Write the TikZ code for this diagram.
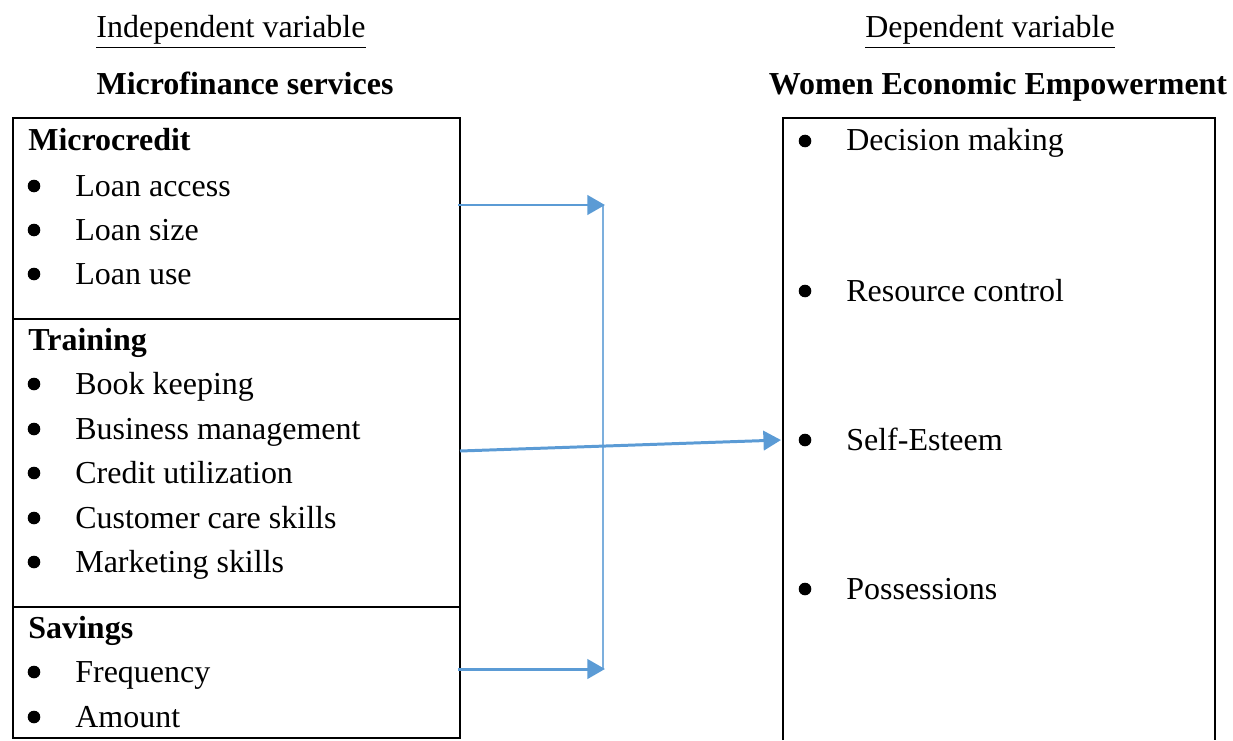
\documentclass[tikz,border=0pt]{standalone}
\usepackage{fontspec}
\setmainfont{Liberation Serif}
\usetikzlibrary{arrows.meta}

\tikzset{
  txt/.style={anchor=base west, inner sep=0pt},
  head/.style={anchor=base, inner sep=0pt},
  boxline/.style={line width=1.4pt, black},
  link/.style={line width=1.7pt, color=linkblue, -{Triangle[length=10pt,width=11pt]}},
  joinline/.style={line width=0.9pt, color=linkblue!80}
}
\definecolor{linkblue}{RGB}{91,155,213}

% bullet item: x, y, name, text
\newcommand{\bitem}[4]{%
  \fill (#1,#2) circle (6.3);
  \node[txt] (#3) at (#1+41,#2+10) {#4};
}

\begin{document}
\begin{tikzpicture}[x=0.02cm, y=-0.02cm, font=\fontsize{18.2}{21}\selectfont]
  \useasboundingbox (0,0) rectangle (1233,740);

  % headings
  \node[head] (indep) at (231,38) {\underline{Independent variable}};
  \node[head] (dep) at (990,38) {\underline{Dependent variable}};
  \node[head] (mfs) at (245,94) {\textbf{Microfinance services}};
  \node[head] (wee) at (998,94) {\textbf{Women Economic Empowerment}};

  % left boxes
  \draw[boxline] (13,118) rectangle (460,319);
  \draw[boxline] (13,319) rectangle (460,607);
  \draw[boxline] (13,607) rectangle (460,738);

  \node[txt] (mc) at (28,151) {\textbf{Microcredit}};
  \bitem{34}{186}{la}{Loan access}
  \bitem{34}{230}{ls}{Loan size}
  \bitem{34}{274}{lu}{Loan use}

  \node[txt] (tr) at (28,350) {\textbf{Training}};
  \bitem{34}{384}{bk}{Book keeping}
  \bitem{34}{429}{bm}{Business management}
  \bitem{34}{473}{cu}{Credit utilization}
  \bitem{34}{518}{cc}{Customer care skills}
  \bitem{34}{562}{ms}{Marketing skills}

  \node[txt] (sv) at (28,638) {\textbf{Savings}};
  \bitem{34}{672}{fr}{Frequency}
  \bitem{34}{717}{am}{Amount}

  % right box (open at the bottom)
  \draw[boxline] (783,740) -- (783,118) -- (1215,118) -- (1215,740);
  \bitem{805}{141}{dm}{Decision making}
  \bitem{805}{291}{rc}{Resource control}
  \bitem{805}{440}{se}{Self-Esteem}
  \bitem{805}{589}{po}{Possessions}

  % connectors
  \coordinate (mcout) at (458,205);
  \coordinate (mcin) at (605,205);
  \coordinate (svout) at (458,669);
  \coordinate (svin) at (605,669);
  \coordinate (trout) at (460,451);
  \coordinate (wein) at (781,440);
  \draw[joinline] (603,205) -- (603,669);
  \draw[link] (mcout) -- (mcin);
  \draw[link] (svout) -- (svin);
  \draw[link] (trout) -- (wein);
\end{tikzpicture}
\end{document}
